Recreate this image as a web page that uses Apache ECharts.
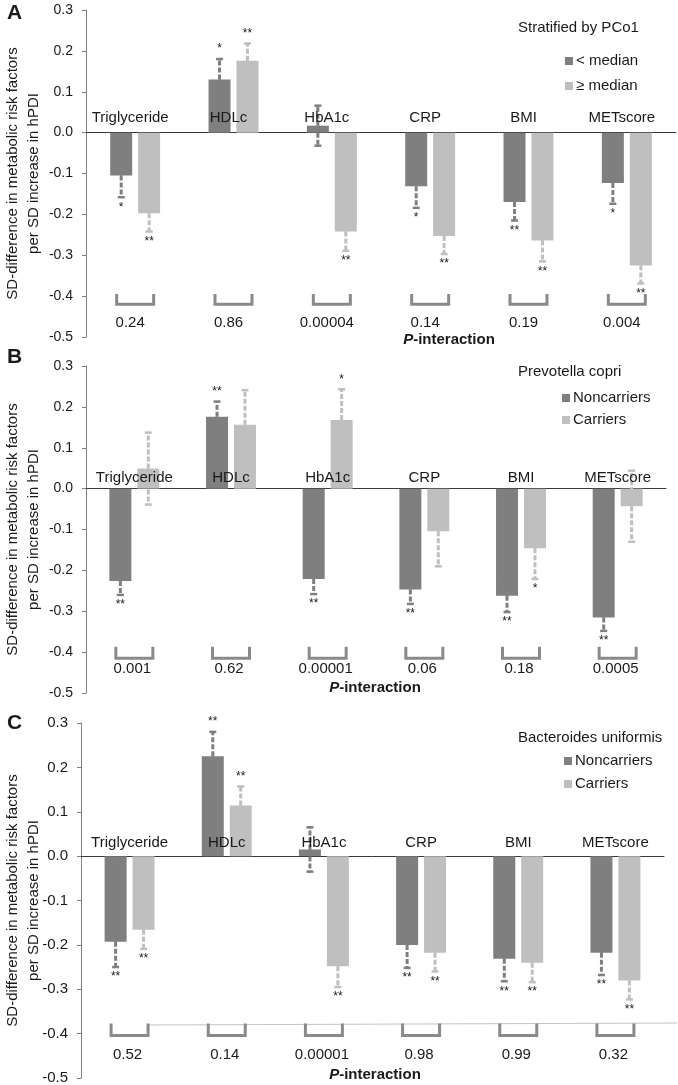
<!DOCTYPE html>
<html><head><meta charset="utf-8">
<script src="https://cdn.jsdelivr.net/npm/echarts@6/dist/echarts.min.js"></script>
<style>html,body{margin:0;padding:0;background:#fff;}#c{width:678px;height:1085px;}</style>
</head><body><div id="c"></div>
<script>
// ---------- data ----------
const categories = ['Triglyceride', 'HDLc', 'HbA1c', 'CRP', 'BMI', 'METscore'];

// Panel A: stratified by PCo1
const aGroupNames = ['< median', '\u2265 median'];
const aLowValues  = [-0.105, 0.130, 0.017, -0.131, -0.170, -0.123];
const aLowErrors  = [0.053, 0.050, 0.049, 0.053, 0.045, 0.051];
const aLowStars   = ['*', '*', '', '*', '**', '*'];
const aHighValues = [-0.197, 0.176, -0.242, -0.253, -0.264, -0.325];
const aHighErrors = [0.045, 0.042, 0.047, 0.044, 0.051, 0.044];
const aHighStars  = ['**', '**', '**', '**', '**', '**'];
const aPInteraction = ['0.24', '0.86', '0.00004', '0.14', '0.19', '0.004'];

// Panel B: Prevotella copri
const bGroupNames = ['Noncarriers', 'Carriers'];
const bNonValues  = [-0.226, 0.176, -0.221, -0.247, -0.262, -0.315];
const bNonErrors  = [0.034, 0.037, 0.037, 0.035, 0.040, 0.033];
const bNonStars   = ['**', '**', '**', '**', '**', '**'];
const bCarValues  = [0.049, 0.156, 0.168, -0.104, -0.146, -0.043];
const bCarErrors  = [0.088, 0.085, 0.075, 0.086, 0.075, 0.087];
const bCarStars   = ['', '', '*', '', '*', ''];
const bPInteraction = ['0.001', '0.62', '0.00001', '0.06', '0.18', '0.0005'];

// Panel C: Bacteroides uniformis
const cGroupNames = ['Noncarriers', 'Carriers'];
const cNonValues  = [-0.193, 0.225, 0.015, -0.200, -0.231, -0.218];
const cNonErrors  = [0.057, 0.055, 0.050, 0.052, 0.051, 0.050];
const cNonStars   = ['**', '**', '', '**', '**', '**'];
const cCarValues  = [-0.166, 0.114, -0.248, -0.218, -0.240, -0.280];
const cCarErrors  = [0.043, 0.043, 0.047, 0.042, 0.044, 0.043];
const cCarStars   = ['**', '**', '**', '**', '**', '**'];
const cPInteraction = ['0.52', '0.14', '0.00001', '0.98', '0.99', '0.32'];

const yMin = -0.5, yMax = 0.3, yInterval = 0.1;
const yAxisTitle = 'SD-difference in metabolic risk factors\nper SD increase in hPDI';

// ---------- layout / style ----------
const FONT = 'Liberation Sans, Arial, sans-serif';
const TXT = '#1a1a1a';
const DARK = '#7f7f7f', LIGHT = '#bfbfbf';
const panels = [
  { grid: {left: 86, top: 10, width: 590, height: 327}, names: aGroupNames,
    s1: [aLowValues, aLowErrors, aLowStars], s2: [aHighValues, aHighErrors, aHighStars], p: aPInteraction,
    labelRise: 15, labelDx: -5, pY: -0.465, pDx: -5, bTop: -0.395, bBot: -0.42, nameGap: 42, tickFont: 14 },
  { grid: {left: 86, top: 366, width: 580, height: 327}, names: bGroupNames,
    s1: [bNonValues, bNonErrors, bNonStars], s2: [bCarValues, bCarErrors, bCarStars], p: bPInteraction,
    labelRise: 11, labelDx: 0, pY: -0.44, pDx: -2, bTop: -0.387, bBot: -0.415, nameGap: 42, tickFont: 14 },
  { grid: {left: 81, top: 723, width: 583, height: 355}, names: cGroupNames,
    s1: [cNonValues, cNonErrors, cNonStars], s2: [cCarValues, cCarErrors, cCarStars], p: cPInteraction,
    labelRise: 13, labelDx: 0, pY: -0.447, pDx: -2, bTop: -0.377, bBot: -0.404, nameGap: 37, tickFont: 15 }
];

function errRender(offset, color, stars) {
  return function (params, api) {
    const i = api.value(0), v = api.value(1), e = api.value(2);
    const x = api.coord([i, 0])[0] + offset;
    const y0 = api.coord([i, v])[1];
    const yH = api.coord([i, v + e])[1];
    const yL = api.coord([i, v - e])[1];
    const dash = {stroke: color, lineWidth: 3, lineDash: [5, 2]};
    const cap = {stroke: color, lineWidth: 2.5};
    const children = [
      {type: 'line', shape: {x1: x, y1: y0, x2: x, y2: yH}, style: dash},
      {type: 'line', shape: {x1: x, y1: y0, x2: x, y2: yL}, style: dash},
      {type: 'line', shape: {x1: x - 3.5, y1: yH, x2: x + 3.5, y2: yH}, style: cap},
      {type: 'line', shape: {x1: x - 3.5, y1: yL, x2: x + 3.5, y2: yL}, style: cap}
    ];
    const s = stars[params.dataIndex];
    if (s) {
      const outer = v >= 0 ? yH : yL;
      children.push({type: 'text', x: x, y: v >= 0 ? outer - 16 : outer + 4,
        style: {text: s, fontSize: 12, fontFamily: FONT, fill: TXT, align: 'center', verticalAlign: 'top'}});
    }
    return {type: 'group', children: children};
  };
}

function annoRender(pn) {
  return function (params, api) {
    const i = api.value(0);
    const cx = api.coord([i, 0])[0];
    const y0 = api.coord([i, 0])[1];
    const yt = api.coord([i, pn.bTop])[1];
    const yb = api.coord([i, pn.bBot])[1];
    const yp = api.coord([i, pn.pY])[1];
    return {type: 'group', children: [
      {type: 'text', x: cx + pn.labelDx, y: y0 - pn.labelRise, z2: 100,
        style: {text: categories[i], fontSize: 15, fontFamily: FONT, fill: TXT, align: 'center', verticalAlign: 'middle'}},
      {type: 'polyline', shape: {points: [[cx - 18.5, yt], [cx - 18.5, yb], [cx + 18.5, yb], [cx + 18.5, yt]]},
        style: {stroke: '#8a8a8a', lineWidth: 3, fill: null}},
      {type: 'text', x: cx + pn.pDx, y: yp,
        style: {text: pn.p[i], fontSize: 15, fontFamily: FONT, fill: TXT, align: 'center', verticalAlign: 'middle'}}
    ]};
  };
}

const grids = [], xAxes = [], yAxes = [], series = [], legends = [];
panels.forEach(function (pn, k) {
  grids.push(Object.assign({outerBoundsMode: 'none', containLabel: false}, pn.grid));
  xAxes.push({type: 'category', gridIndex: k, data: categories,
    axisLine: {onZero: true, lineStyle: {color: '#3a3a3a', width: 1}},
    axisTick: {show: false}, axisLabel: {show: false}, splitLine: {show: false}});
  yAxes.push({type: 'value', gridIndex: k, min: yMin, max: yMax, interval: yInterval,
    axisLine: {show: true, lineStyle: {color: '#808080', width: 1}},
    axisTick: {show: true, length: 4, lineStyle: {color: '#808080'}},
    splitLine: {show: false},
    axisLabel: {fontSize: pn.tickFont, color: TXT, fontFamily: FONT, margin: 13,
      formatter: function (v) { return Math.abs(v) < 1e-9 ? '0.0' : v.toFixed(1); }},
    name: yAxisTitle, nameLocation: 'middle', nameGap: pn.nameGap, nameRotate: 90, nameMoveOverlap: false,
    nameTextStyle: {fontSize: 15, lineHeight: 21, color: TXT, fontFamily: FONT}});
  const groups = [pn.s1, pn.s2];
  const colors = [DARK, LIGHT];
  groups.forEach(function (g, j) {
    series.push({type: 'bar', name: pn.names[j], xAxisIndex: k, yAxisIndex: k, z: 2,
      barWidth: 22, barGap: '27%', itemStyle: {color: colors[j]},
      data: g[0], silent: true, animation: false});
  });
  groups.forEach(function (g, j) {
    series.push({type: 'custom', xAxisIndex: k, yAxisIndex: k, silent: true, animation: false, z: 3,
      renderItem: errRender(j === 0 ? -13.97 : 13.97, colors[j], g[2]),
      data: g[0].map(function (v, i) { return [i, v, g[1][i]]; })});
  });
  series.push({type: 'custom', xAxisIndex: k, yAxisIndex: k, silent: true, animation: false, z: 10,
    renderItem: annoRender(pn), data: categories.map(function (c, i) { return [i, 0]; })});
});

legends.push({data: aGroupNames, left: 565, top: 53, itemGap: 9});
legends.push({data: bGroupNames, left: 562, top: 390, itemGap: 6});
legends.push({data: cGroupNames, left: 564, top: 753, itemGap: 7});
legends.forEach(function (l) {
  Object.assign(l, {orient: 'vertical', padding: 0, itemWidth: 8, itemHeight: 8, icon: 'rect',
    selectedMode: false, textStyle: {fontSize: 15, lineHeight: 16, color: TXT, fontFamily: FONT, padding: [0, 0, 0, -2]}});
});

function label(text, x, y, extra) {
  return {type: 'text', x: x, y: y, style: Object.assign({text: text, fontSize: 15, fontFamily: FONT, fill: TXT,
    verticalAlign: 'middle', align: 'left'}, extra || {})};
}
function pInter(cx, cy) {
  return {type: 'text', x: cx, y: cy, style: {text: '{a|P}{b|-interaction}', align: 'center', verticalAlign: 'middle',
    rich: {a: {fontSize: 15, fontWeight: 'bold', fontStyle: 'italic', fontFamily: FONT, fill: TXT},
           b: {fontSize: 15, fontWeight: 'bold', fontFamily: FONT, fill: TXT}}}};
}
const graphics = [
  label('A', 7, 13, {fontSize: 21, fontWeight: 'bold'}),
  label('B', 7, 357, {fontSize: 21, fontWeight: 'bold'}),
  label('C', 7, 723, {fontSize: 21, fontWeight: 'bold'}),
  label('Stratified by PCo1', 518, 28),
  label('Prevotella copri', 518, 372),
  label('Bacteroides uniformis', 518, 738),
  pInter(449, 340), pInter(375, 688), pInter(375, 1075),
  {type: 'line', shape: {x1: 147, y1: 1025, x2: 677, y2: 1023}, style: {stroke: '#c4c4c4', lineWidth: 1}}
];

const chart = echarts.init(document.getElementById('c'), null, {renderer: 'canvas'});
chart.setOption({
  animation: false,
  backgroundColor: '#fff',
  textStyle: {fontFamily: FONT},
  grid: grids, xAxis: xAxes, yAxis: yAxes, legend: legends,
  series: series, graphic: graphics
});
</script></body></html>
